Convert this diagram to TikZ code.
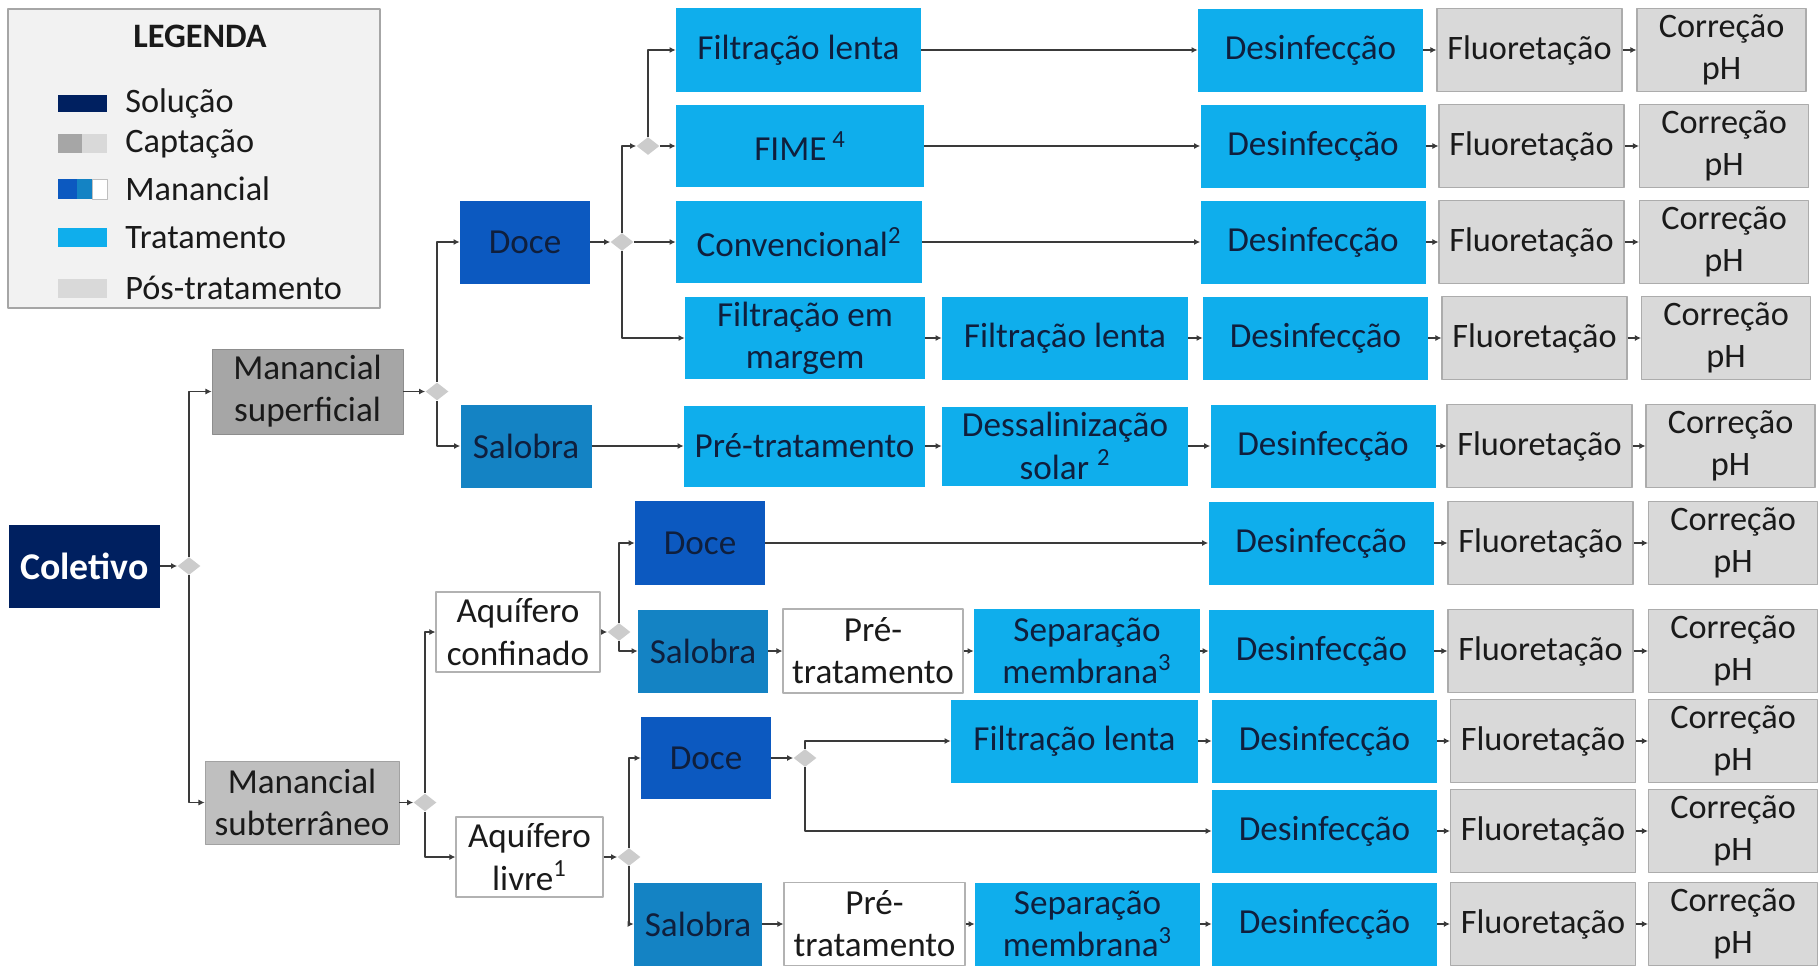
\documentclass[tikz,border=0pt]{standalone}
\usepackage{fontspec}
\setmainfont{Carlito}
\usetikzlibrary{shapes.geometric,arrows.meta}
\definecolor{cnavy}{HTML}{002060}
\definecolor{ccapsup}{HTML}{A6A6A6}
\definecolor{ccapsub}{HTML}{BFBFBF}
\definecolor{cdoce}{HTML}{0C59C0}
\definecolor{csalobra}{HTML}{1483C4}
\definecolor{ctrat}{HTML}{0FAEEC}
\definecolor{cpos}{HTML}{D9D9D9}
\definecolor{ink}{HTML}{0F1F3D}
\definecolor{txt}{HTML}{1A1A1A}
\definecolor{cwire}{HTML}{3A3A3A}
\tikzset{
  box/.style={rectangle,inner sep=0pt,align=center,minimum height=16.6mm,
    font=\fontsize{20}{24}\selectfont,text=ink},
  solucao/.style={box,fill=cnavy,text=white,font=\fontsize{21.5}{24}\selectfont\bfseries},
  captsup/.style={box,fill=ccapsup,draw=ccapsup!85!black,line width=0.4pt,text=txt},
  captsub/.style={box,fill=ccapsub,draw=ccapsub!85!black,line width=0.4pt,text=txt},
  docebox/.style={box,fill=cdoce},
  salobrabox/.style={box,fill=csalobra},
  aquifero/.style={box,fill=white,draw=gray!60,line width=0.6pt,text=txt,minimum height=16mm},
  tratbox/.style={box,fill=ctrat},
  pretrat/.style={box,fill=white,draw=gray!60,line width=0.6pt,text=txt},
  posbox/.style={box,fill=cpos,draw=gray!65,line width=0.6pt,text=txt,font=\fontsize{19.5}{24}\selectfont},
  junc/.style={diamond,fill=black!20,inner sep=0pt,minimum width=4.6mm,minimum height=3.6mm},
  wire/.style={draw=cwire,line width=1.1pt,->},
  lab/.style={anchor=west,inner sep=0pt,font=\fontsize{19.5}{24}\selectfont,text=txt}
}
\begin{document}
\begin{tikzpicture}[x=0.2mm,y=-0.2mm,line join=round,>={Latex[length=3.5pt,width=3.5pt]}]
  \useasboundingbox (0,0) rectangle (1818,965);

  % legenda
  \draw[draw=gray!70,line width=0.8pt,fill=black!5] (8,9) rectangle (380,308);
  \node[font=\fontsize{19.5}{24}\selectfont\bfseries,text=txt] (legenda) at (200,36) {LEGENDA};
  \fill[cnavy] (58,95) rectangle (107,112);
  \fill[ccapsup] (58,134) rectangle (82,153);
  \fill[cpos] (82,134) rectangle (107,153);
  \fill[cdoce] (58,179) rectangle (77,199);
  \fill[csalobra] (77,179) rectangle (92,199);
  \draw[gray!50,fill=white] (92,179) rectangle (107,199);
  \fill[ctrat] (58,228) rectangle (107,247);
  \fill[cpos] (58,279) rectangle (107,298);
  \node[lab] (lsol) at (125,103) {Solução};
  \node[lab] (lcap) at (125,144) {Captação};
  \node[lab] (lman) at (125,189) {Manancial};
  \node[lab] (ltrat) at (125,238) {Tratamento};
  \node[lab] (lpos) at (125,288) {Pós-tratamento};

  % solucao e captacao
  \node[solucao,minimum width=30.2mm] (coletivo) at (84.5,566) {Coletivo};
  \node[junc] (j0) at (189,566) {};
  \node[captsup,minimum width=38.2mm,minimum height=17mm] (sup) at (307.5,391.5) {Manancial\\superficial};
  \node[captsub,minimum width=38.8mm] (sub) at (302,802.5) {Manancial\\subterrâneo};

  % manancial superficial
  \node[junc] (j1) at (437,391.5) {};
  \node[docebox,minimum width=26mm] (doce1) at (525,242) {Doce};
  \node[salobrabox,minimum width=26.2mm] (sal1) at (526,446) {Salobra};
  \node[junc] (j2) at (622,242) {};
  \node[junc] (j3) at (648,146) {};
  \node[tratbox,minimum width=49mm,minimum height=16.8mm] (fl1) at (798.5,50) {Filtração lenta};
  \node[tratbox,minimum width=49.6mm,minimum height=16.4mm] (fime) at (800,146) {FIME\,\textsuperscript{4}};
  \node[tratbox,minimum width=49.2mm,minimum height=16.4mm] (conv) at (799,242) {Convencional\textsuperscript{2}};
  \node[tratbox,minimum width=48mm,minimum height=16.4mm] (marg) at (805,338) {Filtração em\\margem};
  \node[tratbox,minimum width=49.2mm] (fl4) at (1065,338) {Filtração lenta};
  \node[tratbox,minimum width=48.2mm,minimum height=16.2mm] (pre5) at (804.5,446) {Pré-tratamento};
  \node[tratbox,minimum width=49.2mm,minimum height=15.8mm] (dess) at (1065,446) {Dessalinização\\solar \textsuperscript{2}};

  % manancial subterraneo
  \node[junc] (j6) at (425,802.5) {};
  \node[aquifero,minimum width=32.8mm] (conf) at (518,632) {Aquífero\\confinado};
  \node[aquifero,minimum width=29.4mm] (livre) at (529.5,857) {Aquífero\\livre\textsuperscript{1}};
  \node[junc] (j4) at (619,632) {};
  \node[junc] (j7) at (629,857) {};
  \node[docebox,minimum width=26mm,minimum height=16.8mm] (doce6) at (700,543) {Doce};
  \node[salobrabox,minimum width=26mm] (sal7) at (703,651) {Salobra};
  \node[pretrat,minimum width=36mm,minimum height=16.8mm] (pre7) at (873,651) {Pré-\\tratamento};
  \node[tratbox,minimum width=45.2mm,minimum height=16.8mm] (sep7) at (1087,651) {Separação\\membrana\textsuperscript{3}};
  \node[docebox,minimum width=26mm,minimum height=16.4mm] (doce8) at (706,758) {Doce};
  \node[junc] (j5) at (805,758) {};
  \node[tratbox,minimum width=49.4mm] (fl8) at (1074.5,741) {Filtração lenta};
  \node[salobrabox,minimum width=25.6mm] (sal10) at (698,924) {Salobra};
  \node[pretrat,minimum width=36.2mm] (pre10) at (874.5,924) {Pré-\\tratamento};
  \node[tratbox,minimum width=45mm] (sep10) at (1087.5,924) {Separação\\membrana\textsuperscript{3}};

  % desinfeccao, fluoretacao, correcao
  \node[tratbox,minimum width=45mm] (d1) at (1310.5,50) {Desinfecção};
  \node[posbox,minimum width=37mm] (f1) at (1529.5,50) {Fluoretação};
  \node[posbox,minimum width=33.8mm] (c1) at (1721.5,50) {Correção\\pH};
  \node[tratbox,minimum width=45mm] (d2) at (1313,146) {Desinfecção};
  \node[posbox,minimum width=37mm] (f2) at (1531.5,146) {Fluoretação};
  \node[posbox,minimum width=33.8mm] (c2) at (1724,146) {Correção\\pH};
  \node[tratbox,minimum width=45mm] (d3) at (1313,242) {Desinfecção};
  \node[posbox,minimum width=37mm] (f3) at (1531.5,242) {Fluoretação};
  \node[posbox,minimum width=33.8mm] (c3) at (1724,242) {Correção\\pH};
  \node[tratbox,minimum width=45mm] (d4) at (1315.5,338) {Desinfecção};
  \node[posbox,minimum width=37mm] (f4) at (1534.5,338) {Fluoretação};
  \node[posbox,minimum width=33.8mm] (c4) at (1726,338) {Correção\\pH};
  \node[tratbox,minimum width=45mm] (d5) at (1323,446) {Desinfecção};
  \node[posbox,minimum width=37mm] (f5) at (1539.5,446) {Fluoretação};
  \node[posbox,minimum width=33.8mm] (c5) at (1730.5,446) {Correção\\pH};
  \node[tratbox,minimum width=45mm] (d6) at (1321,543) {Desinfecção};
  \node[posbox,minimum width=37mm] (f6) at (1540.5,543) {Fluoretação};
  \node[posbox,minimum width=33.8mm] (c6) at (1733,543) {Correção\\pH};
  \node[tratbox,minimum width=45mm] (d7) at (1321.5,651) {Desinfecção};
  \node[posbox,minimum width=37mm] (f7) at (1540.5,651) {Fluoretação};
  \node[posbox,minimum width=33.8mm] (c7) at (1733,651) {Correção\\pH};
  \node[tratbox,minimum width=45mm] (d8) at (1324.5,741) {Desinfecção};
  \node[posbox,minimum width=37mm] (f8) at (1543,741) {Fluoretação};
  \node[posbox,minimum width=33.8mm] (c8) at (1733,741) {Correção\\pH};
  \node[tratbox,minimum width=45mm] (d9) at (1324.5,831) {Desinfecção};
  \node[posbox,minimum width=37mm] (f9) at (1543,831) {Fluoretação};
  \node[posbox,minimum width=33.8mm] (c9) at (1733,831) {Correção\\pH};
  \node[tratbox,minimum width=45mm] (d10) at (1324.5,924) {Desinfecção};
  \node[posbox,minimum width=37mm] (f10) at (1543,924) {Fluoretação};
  \node[posbox,minimum width=33.8mm] (c10) at (1733,924) {Correção\\pH};

  % ligacoes
  \draw[wire] (coletivo) -- (j0);
  \draw[wire] (j0) |- (sup);
  \draw[wire] (j0) |- (sub);
  \draw[wire] (sup) -- (j1);
  \draw[wire] (j1) |- (doce1);
  \draw[wire] (j1) |- (sal1);
  \draw[wire] (doce1) -- (j2);
  \draw[wire] (j2) |- (j3);
  \draw[wire] (j2) -- (conv);
  \draw[wire] (j2) |- (marg);
  \draw[wire] (j3) |- (fl1);
  \draw[wire] (j3) -- (fime);
  \draw[wire] (fl1) -- (d1);
  \draw[wire] (fime) -- (d2);
  \draw[wire] (conv) -- (d3);
  \draw[wire] (marg) -- (fl4);
  \draw[wire] (fl4) -- (d4);
  \draw[wire] (sal1) -- (pre5);
  \draw[wire] (pre5) -- (dess);
  \draw[wire] (dess) -- (d5);
  \draw[wire] (sub) -- (j6);
  \draw[wire] (j6) |- (conf);
  \draw[wire] (j6) |- (livre);
  \draw[wire] (conf) -- (j4);
  \draw[wire] (j4) |- (doce6);
  \draw[wire] (j4) |- (sal7);
  \draw[wire] (doce6) -- (d6);
  \draw[wire] (sal7) -- (pre7);
  \draw[wire] (pre7) -- (sep7);
  \draw[wire] (sep7) -- (d7);
  \draw[wire] (livre) -- (j7);
  \draw[wire] (j7) |- (doce8);
  \draw[wire] (j7) |- (sal10);
  \draw[wire] (doce8) -- (j5);
  \draw[wire] (j5) |- (fl8);
  \draw[wire] (j5) |- (d9);
  \draw[wire] (fl8) -- (d8);
  \draw[wire] (sal10) -- (pre10);
  \draw[wire] (pre10) -- (sep10);
  \draw[wire] (sep10) -- (d10);
  \draw[wire] (d1) -- (f1);  \draw[wire] (f1) -- (c1);
  \draw[wire] (d2) -- (f2);  \draw[wire] (f2) -- (c2);
  \draw[wire] (d3) -- (f3);  \draw[wire] (f3) -- (c3);
  \draw[wire] (d4) -- (f4);  \draw[wire] (f4) -- (c4);
  \draw[wire] (d5) -- (f5);  \draw[wire] (f5) -- (c5);
  \draw[wire] (d6) -- (f6);  \draw[wire] (f6) -- (c6);
  \draw[wire] (d7) -- (f7);  \draw[wire] (f7) -- (c7);
  \draw[wire] (d8) -- (f8);  \draw[wire] (f8) -- (c8);
  \draw[wire] (d9) -- (f9);  \draw[wire] (f9) -- (c9);
  \draw[wire] (d10) -- (f10);  \draw[wire] (f10) -- (c10);
\end{tikzpicture}
\end{document}
